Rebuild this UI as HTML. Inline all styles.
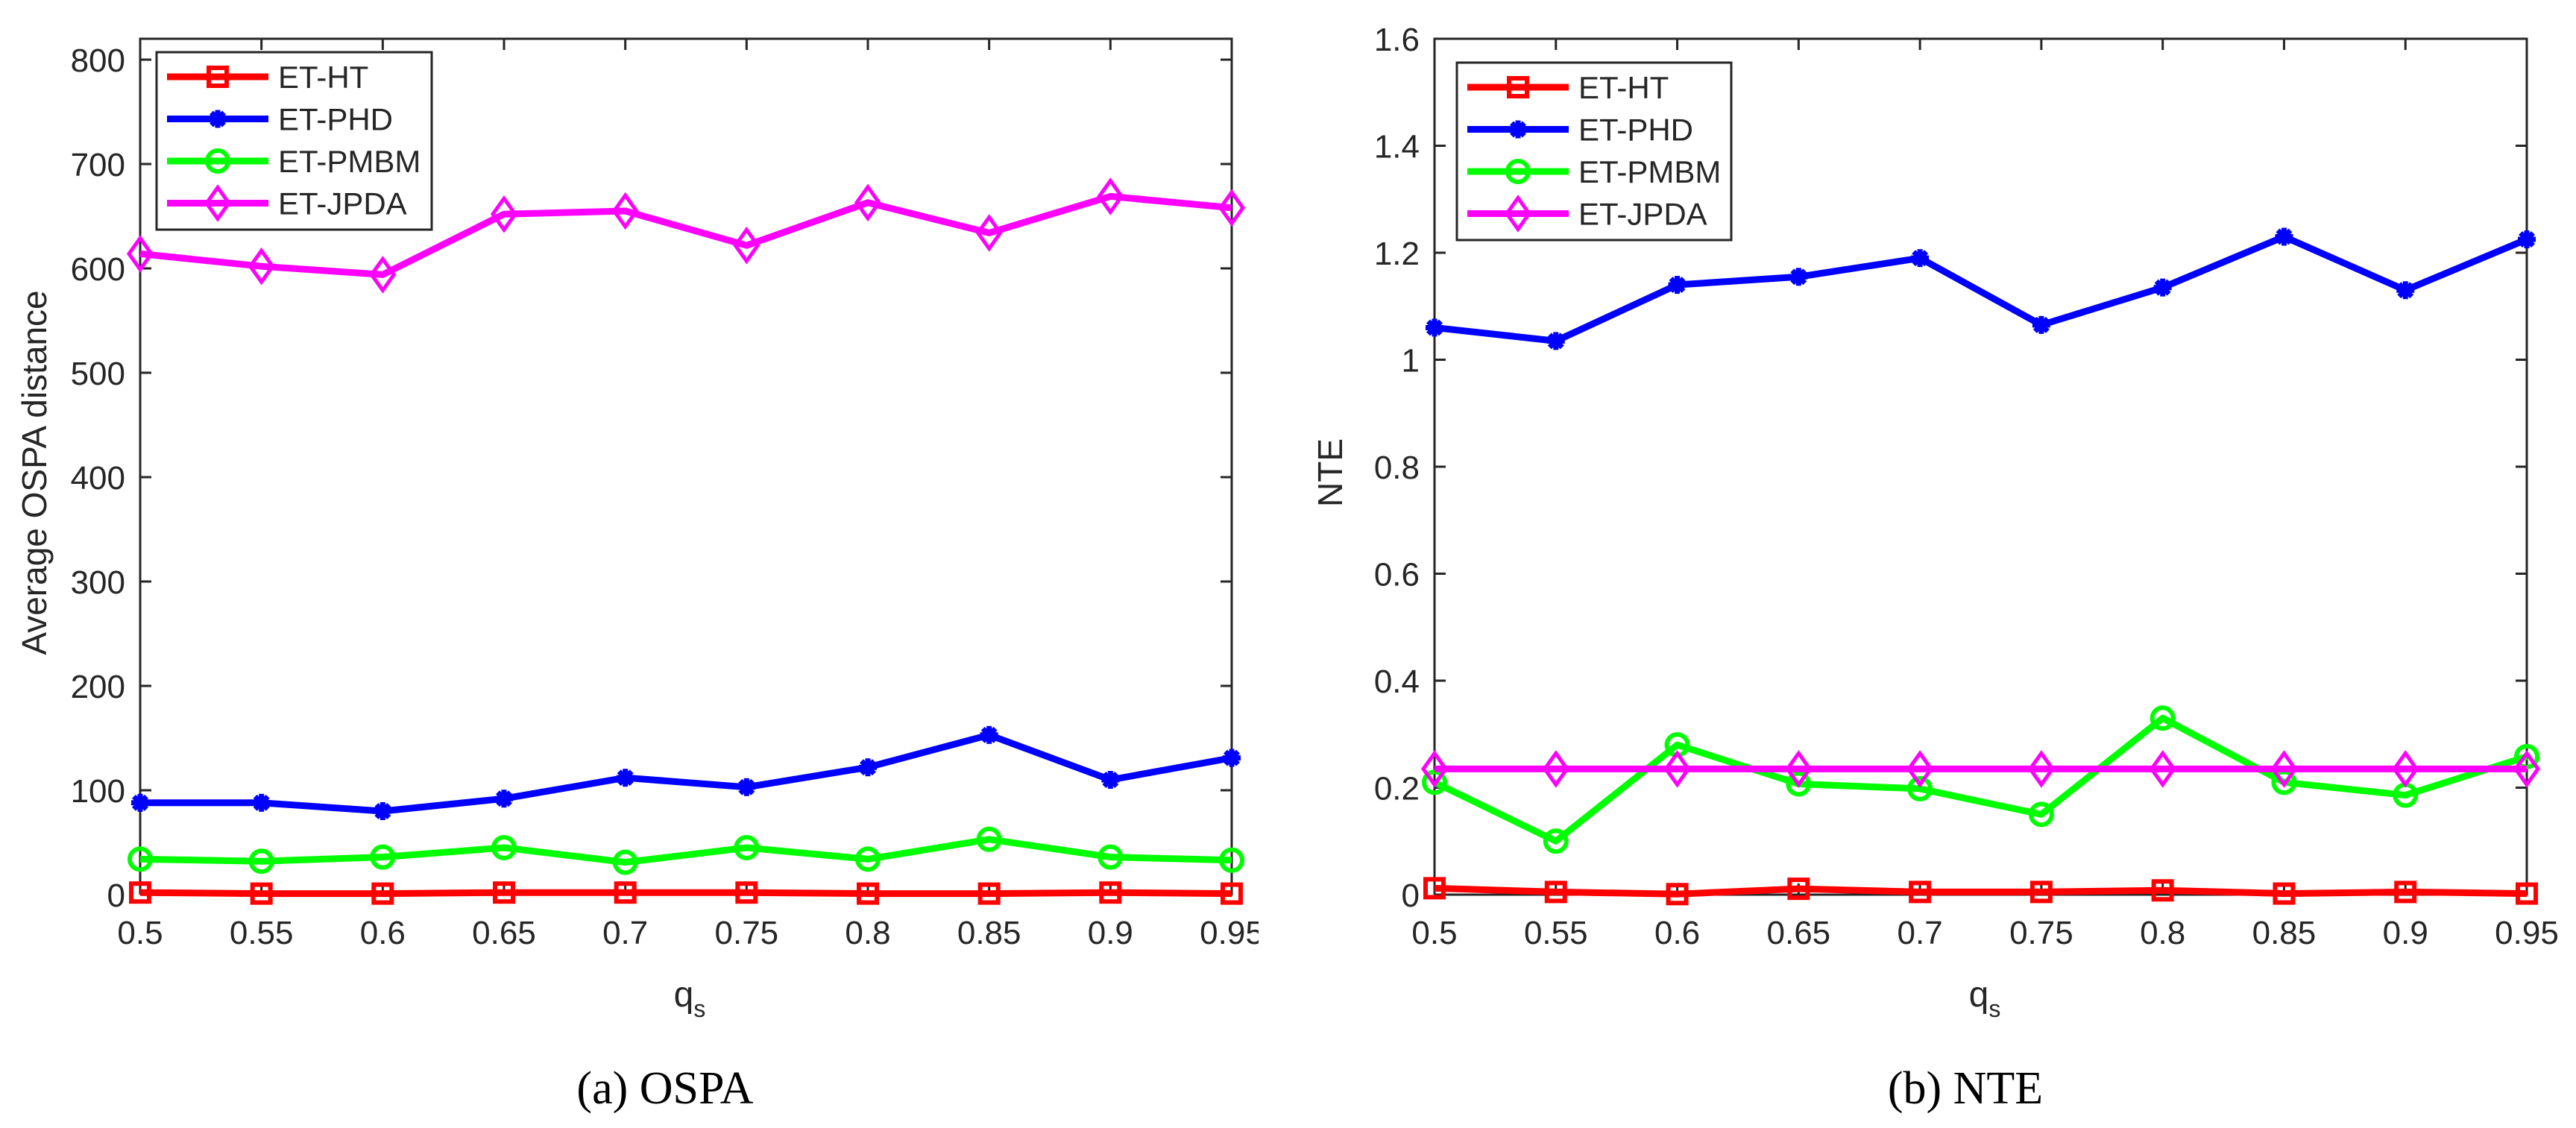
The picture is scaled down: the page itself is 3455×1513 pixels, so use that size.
<!DOCTYPE html>
<html><head><meta charset="utf-8"><style>
html,body{margin:0;padding:0;background:#fff;}
svg{display:block;}
text{font-family:"Liberation Sans",sans-serif;fill:#262626;}
.cap{font-family:"Liberation Serif",serif;fill:#000;}
</style></head><body>
<svg id="fig" width="3455" height="1513" viewBox="0 0 3455 1513" xmlns="http://www.w3.org/2000/svg">
<defs><clipPath id="clipL"><rect x="0" y="0" width="1688" height="1513"/></clipPath></defs>
<g id="panelA" clip-path="url(#clipL)"></g>
<g id="panelB"></g>
<text class="cap" x="892" y="1480" font-size="62" text-anchor="middle">(a)  OSPA</text>
<text class="cap" x="2636" y="1480" font-size="62" text-anchor="middle">(b)  NTE</text>
</svg>
<script>
const categories = [0.5,0.55,0.6,0.65,0.7,0.75,0.8,0.85,0.9,0.95];
const xTickLabels = ["0.5","0.55","0.6","0.65","0.7","0.75","0.8","0.85","0.9","0.95"];
const seriesNames = ["ET-HT","ET-PHD","ET-PMBM","ET-JPDA"];
const ospaHT = [2,1,1,2,2,2,1,1,2,1];
const ospaPHD = [88,88,80,92,112,103,122,153,110,131];
const ospaPMBM = [34,32,36,45,31,45,34,53,36,33];
const ospaJPDA = [614,602,594,652,655,622,663,634,669,658];
const ospaYTicks = [0,100,200,300,400,500,600,700,800];
const nteHT = [0.012,0.005,0.001,0.011,0.005,0.005,0.008,0.002,0.005,0.002];
const ntePHD = [1.06,1.035,1.14,1.155,1.19,1.065,1.135,1.23,1.13,1.225];
const ntePMBM = [0.21,0.10,0.28,0.207,0.198,0.15,0.33,0.21,0.186,0.258];
const nteJPDA = [0.235,0.235,0.235,0.235,0.235,0.235,0.235,0.235,0.235,0.235];
const nteYTicks = [0,0.2,0.4,0.6,0.8,1,1.2,1.4,1.6];
const nteYTickLabels = ["0","0.2","0.4","0.6","0.8","1","1.2","1.4","1.6"];

const NS="http://www.w3.org/2000/svg";
const colors=["#ff0000","#0000ff","#00ff00","#ff00ff"];
const markers=["square","star","circle","diamond"];
function mk(tag,attrs,parent){const e=document.createElementNS(NS,tag);for(const k in attrs)e.setAttribute(k,attrs[k]);parent.appendChild(e);return e;}
function marker(g,type,x,y,c){
  let m;
  if(type==="square"){m=mk("rect",{x:x-12,y:y-12,width:24,height:24,fill:"none",stroke:c,"stroke-width":6},g);}
  else if(type==="circle"){m=mk("circle",{cx:x,cy:y,r:14,fill:"none",stroke:c,"stroke-width":6},g);}
  else if(type==="diamond"){m=mk("polygon",{points:`${x},${y-21} ${x+15},${y} ${x},${y+21} ${x-15},${y}`,fill:"none",stroke:c,"stroke-width":5},g);}
  else {m=mk("g",{},g);
    for(let a=0;a<180;a+=45){const r=a*Math.PI/180;
      const ln=mk("line",{x1:x-12*Math.cos(r),y1:y-12*Math.sin(r),x2:x+12*Math.cos(r),y2:y+12*Math.sin(r),stroke:c,"stroke-width":7},m);
      
      }
    mk("circle",{cx:x,cy:y,r:7,fill:c},m);}
  
  
}
function panel(g,cfg){
  const L=cfg.left,R=cfg.right,T=52,B=1200;
  const xs=v=>L+(v-categories[0])/(categories[categories.length-1]-categories[0])*(R-L);
  const ys=v=>B-(v-cfg.ymin)/(cfg.ymax-cfg.ymin)*(B-T);
  const box=mk("path",{d:`M${L},${B} L${L},${T} L${R},${T} L${R},${B} L${L},${B}`,fill:"none",stroke:"#262626","stroke-width":3},g);
  
  
  cfg.yticks.forEach((v,i)=>{const y=ys(v);
    const t1=mk("line",{x1:L,y1:y,x2:L+15,y2:y,stroke:"#262626","stroke-width":3},g);
    
    
    const t2=mk("line",{x1:R,y1:y,x2:R-15,y2:y,stroke:"#262626","stroke-width":3},g);
    
    
    const tx=mk("text",{x:L-20,y:y+16,"font-size":44,"text-anchor":"end"},g);tx.textContent=cfg.ylabels[i];
    
    });
  categories.forEach((v,i)=>{const x=xs(v);
    const t1=mk("line",{x1:x,y1:T,x2:x,y2:T+15,stroke:"#262626","stroke-width":3},g);
    
    
    const t2=mk("line",{x1:x,y1:B,x2:x,y2:B-15,stroke:"#262626","stroke-width":3},g);
    
    
    const tx=mk("text",{x:x,y:1266,"font-size":44,"text-anchor":"middle"},g);tx.textContent=xTickLabels[i];
    
    });
  const xl=mk("text",{x:cfg.xlabelX,y:1350,"font-size":48,"text-anchor":"middle"},g);
  xl.innerHTML='q<tspan font-size="32" dy="14">s</tspan>';
  
  
  const yl=mk("text",{x:0,y:0,"font-size":46,"text-anchor":"middle",transform:`translate(${cfg.ylabelX},634) rotate(-90)`},g);
  yl.textContent=cfg.ylabel;
  
  
  cfg.series.forEach((s,k)=>{
    const sg=mk("g",{},g);
    
    
    const pl=mk("polyline",{points:s.map((v,i)=>xs(categories[i])+","+ys(v)).join(" "),fill:"none",stroke:colors[k],"stroke-width":9,"stroke-linejoin":"round"},sg);
    
    
    s.forEach((v,i)=>marker(sg,markers[k],xs(categories[i]),ys(v),colors[k]));
  });
  const lg=mk("g",{},g);
  
  
  const lx=cfg.legX,ly=cfg.legY;
  mk("rect",{x:lx,y:ly,width:cfg.legW,height:238,fill:"#fff",stroke:"#262626","stroke-width":3},lg);
  seriesNames.forEach((n,k)=>{const y=ly+33+k*56.5;
    const e=mk("g",{},lg);
    
    
    mk("line",{x1:lx+14,y1:y,x2:lx+150,y2:y,stroke:colors[k],"stroke-width":9},e);
    marker(e,markers[k],lx+82,y,colors[k]);
    const t=mk("text",{x:lx+163,y:y+15,"font-size":42},e);t.textContent=n;});
}
panel(document.getElementById("panelA"),{left:188,right:1652,ymin:0,ymax:820,yticks:ospaYTicks,ylabels:ospaYTicks.map(String),
  series:[ospaHT,ospaPHD,ospaPMBM,ospaJPDA],ylabel:"Average OSPA distance",ylabelX:62,xlabelX:925,legX:210,legY:70,legW:369});
panel(document.getElementById("panelB"),{left:1924,right:3389,ymin:0,ymax:1.6,yticks:nteYTicks,ylabels:nteYTickLabels,
  series:[nteHT,ntePHD,ntePMBM,nteJPDA],ylabel:"NTE",ylabelX:1800,xlabelX:2662,legX:1954,legY:84,legW:368});
</script>
</body></html>
